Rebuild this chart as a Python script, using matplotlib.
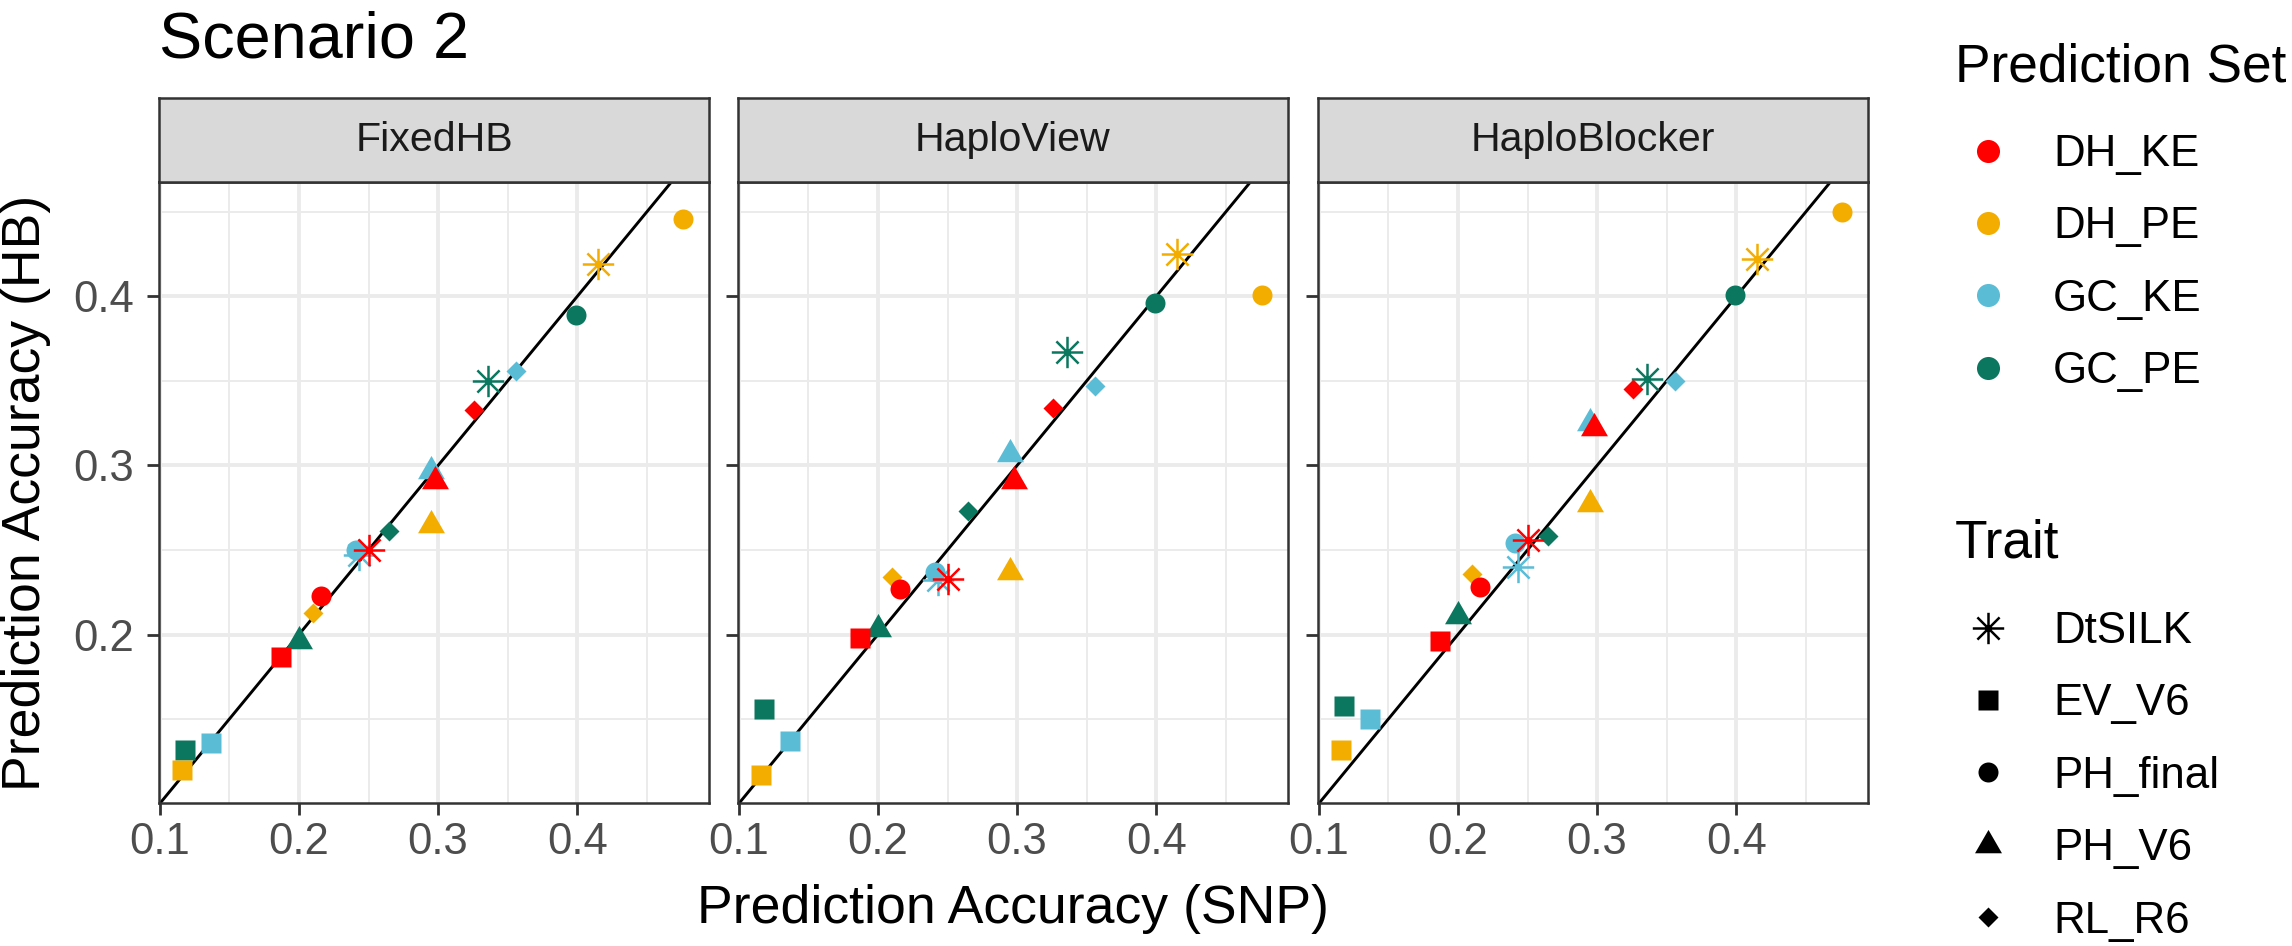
import numpy as np
import matplotlib.pyplot as plt
from matplotlib.path import Path
from matplotlib.lines import Line2D

plt.rcParams['font.family'] = ['Liberation Sans', 'DejaVu Sans']

# facets, groups and traits
methods = ['FixedHB', 'HaploView', 'HaploBlocker']
pred_sets = ['DH_KE', 'DH_PE', 'GC_KE', 'GC_PE']
traits = ['DtSILK', 'EV_V6', 'PH_final', 'PH_V6', 'RL_R6']

# SNP accuracy (x), same in every facet; order of traits as above
snp_dh_ke = [0.250, 0.187, 0.216, 0.298, 0.326]
snp_dh_pe = [0.415, 0.116, 0.476, 0.295, 0.210]
snp_gc_ke = [0.243, 0.137, 0.241, 0.295, 0.356]
snp_gc_pe = [0.336, 0.118, 0.399, 0.200, 0.265]

# HB accuracy (y) per facet
fixed_dh_ke = [0.250, 0.187, 0.223, 0.291, 0.333]
fixed_dh_pe = [0.419, 0.120, 0.446, 0.265, 0.213]
fixed_gc_ke = [0.247, 0.136, 0.250, 0.297, 0.356]
fixed_gc_pe = [0.350, 0.132, 0.389, 0.196, 0.261]

hview_dh_ke = [0.233, 0.198, 0.227, 0.291, 0.334]
hview_dh_pe = [0.425, 0.117, 0.401, 0.237, 0.234]
hview_gc_ke = [0.232, 0.137, 0.237, 0.307, 0.347]
hview_gc_pe = [0.367, 0.156, 0.396, 0.203, 0.273]

hblock_dh_ke = [0.256, 0.196, 0.228, 0.322, 0.345]
hblock_dh_pe = [0.422, 0.132, 0.450, 0.277, 0.236]
hblock_gc_ke = [0.240, 0.150, 0.254, 0.325, 0.350]
hblock_gc_pe = [0.351, 0.158, 0.401, 0.211, 0.258]

snp = {'DH_KE': snp_dh_ke, 'DH_PE': snp_dh_pe, 'GC_KE': snp_gc_ke, 'GC_PE': snp_gc_pe}
hb = {
    'FixedHB': {'DH_KE': fixed_dh_ke, 'DH_PE': fixed_dh_pe, 'GC_KE': fixed_gc_ke, 'GC_PE': fixed_gc_pe},
    'HaploView': {'DH_KE': hview_dh_ke, 'DH_PE': hview_dh_pe, 'GC_KE': hview_gc_ke, 'GC_PE': hview_gc_pe},
    'HaploBlocker': {'DH_KE': hblock_dh_ke, 'DH_PE': hblock_dh_pe, 'GC_KE': hblock_gc_ke, 'GC_PE': hblock_gc_pe},
}

colors = {'DH_KE': '#FF0000', 'DH_PE': '#F2AD00', 'GC_KE': '#5BBCD6', 'GC_PE': '#0B775E'}

# R-like marker shapes
a = np.sqrt(0.5)
star = Path([(0, -1), (0, 1), (-1, 0), (1, 0), (-a, -a), (a, a), (-a, a), (a, -a)],
            [Path.MOVETO, Path.LINETO] * 4)
tri = Path([(0, 1), (-0.866, -0.5), (0.866, -0.5), (0, 1)],
           [Path.MOVETO, Path.LINETO, Path.LINETO, Path.CLOSEPOLY])
shapes = {'DtSILK': (star, 11.3), 'EV_V6': ('s', 7.2), 'PH_final': ('o', 7.2),
          'PH_V6': (tri, 11.2), 'RL_R6': ('D', 5.1)}

W, H = 2292, 946
fig = plt.figure(figsize=(W / 200, H / 200), dpi=200)

grid_col = '#EBEBEB'
frame_col = '#333333'
panel_lefts = [159, 738, 1318]
pw, top, bottom, strip_top = 550, 182, 803, 98

for i, m in enumerate(methods):
    ax = fig.add_axes([panel_lefts[i] / W, 1 - bottom / H, pw / W, (bottom - top) / H])
    ax.set_xlim(0.0995, 0.4946)
    ax.set_ylim(0.1004, 0.4676)
    ax.set_xticks([0.1, 0.2, 0.3, 0.4])
    ax.set_yticks([0.2, 0.3, 0.4])
    ax.set_xticks([0.15, 0.25, 0.35, 0.45], minor=True)
    ax.set_yticks([0.15, 0.25, 0.35, 0.45], minor=True)
    ax.grid(which='major', color=grid_col, lw=1.4, zorder=0)
    ax.grid(which='minor', color=grid_col, lw=0.7, zorder=0)
    ax.set_axisbelow(True)
    ax.tick_params(which='major', length=4.4, width=1.0, color=frame_col,
                   labelsize=15.7, labelcolor='#4D4D4D')
    ax.tick_params(axis='x', pad=2.6)
    ax.tick_params(axis='y', pad=4.5)
    ax.tick_params(which='minor', length=0)
    if i > 0:
        ax.tick_params(axis='y', labelleft=False)
    for s in ax.spines.values():
        s.set_color(frame_col)
        s.set_linewidth(0.9)
        s.set_zorder(5)

    ax.axline((0.1, 0.1), slope=1, color='black', lw=1.05, zorder=2)

    for ps in ['GC_PE', 'GC_KE', 'DH_PE', 'DH_KE']:
        for j, t in enumerate(traits):
            mk, ms = shapes[t]
            if t == 'DtSILK':
                ax.plot(snp[ps][j], hb[m][ps][j], linestyle='none', marker=mk, ms=ms,
                        mfc='none', mec=colors[ps], mew=0.9, zorder=3)
            else:
                ax.plot(snp[ps][j], hb[m][ps][j], linestyle='none', marker=mk, ms=ms,
                        mfc=colors[ps], mec='none', zorder=3)

    # facet strip
    sax = fig.add_axes([panel_lefts[i] / W, 1 - top / H, pw / W, (top - strip_top) / H])
    sax.set_facecolor('#D9D9D9')
    sax.set_xticks([])
    sax.set_yticks([])
    for s in sax.spines.values():
        s.set_color(frame_col)
        s.set_linewidth(0.9)
    sax.text(0.5, 0.5, m, ha='center', va='center', fontsize=14.8, color='#1A1A1A',
             transform=sax.transAxes)

fig.text(159 / W, 1 - 57 / H, 'Scenario 2', fontsize=23.3, ha='left', va='baseline')
fig.text(1013 / W, 1 - 923 / H, 'Prediction Accuracy (SNP)', fontsize=19.3,
         ha='center', va='baseline')
fig.text(26 / W, 1 - 493 / H, 'Prediction Accuracy (HB)', fontsize=19.3,
         ha='center', va='center', rotation=90)

# legends: titles as text, keys as legends
set_handles = [Line2D([], [], linestyle='none', marker='o', ms=8.3, mfc=colors[p], mec='none')
               for p in pred_sets]
trait_handles = []
for t in traits:
    mk, ms = shapes[t]
    if t == 'DtSILK':
        trait_handles.append(Line2D([], [], linestyle='none', marker=mk, ms=ms,
                                    mfc='none', mec='black', mew=0.9))
    else:
        trait_handles.append(Line2D([], [], linestyle='none', marker=mk, ms=ms,
                                    mfc='black', mec='none'))

fig.text(1955 / W, 1 - 82 / H, 'Prediction Set', fontsize=19.2, ha='left', va='baseline')
fig.text(1955 / W, 1 - 558 / H, 'Trait', fontsize=19.2, ha='left', va='baseline')

leg_kw = dict(frameon=False, fontsize=15.8, handlelength=1.505, handletextpad=0.73,
              labelspacing=0.715, borderpad=0, borderaxespad=0, loc='upper left')
fig.legend(set_handles, pred_sets, bbox_to_anchor=(1955 / W, 1 - 134 / H), **leg_kw)
fig.legend(trait_handles, traits, bbox_to_anchor=(1955 / W, 1 - 611 / H), **leg_kw)

fig.savefig('out.png', dpi=200)
